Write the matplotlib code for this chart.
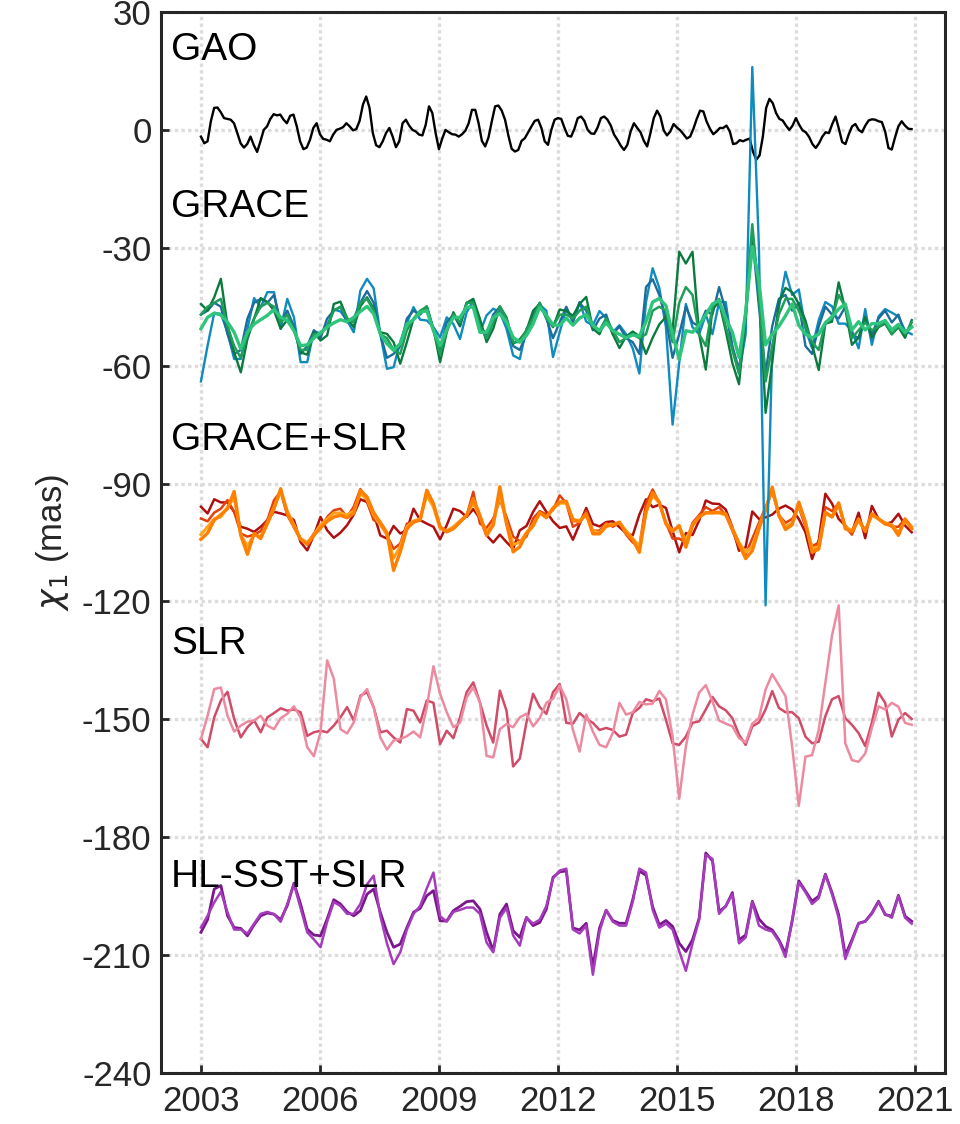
import numpy as np
import matplotlib
matplotlib.use("Agg")
import matplotlib.pyplot as plt

plt.rcParams['font.family'] = ['Liberation Sans', 'DejaVu Sans']
plt.rcParams['axes.unicode_minus'] = False

# monthly GAO, 2003.0 - 2020.92
gao = [-1.7,-3.4,-2.9,2.2,5.6,5.7,4.5,3.0,2.8,2.6,
       1.7,-0.8,-3.4,-4.5,-3.6,-1.7,-3.9,-5.6,-2.9,0.0,
       0.9,2.8,4.0,3.7,3.9,2.6,1.7,3.6,3.9,0.9,
       -2.9,-4.9,-4.5,-2.5,0.5,1.7,-1.1,-2.3,-2.5,-2.9,
       -1.2,0.0,0.3,0.7,1.7,0.9,-0.1,0.2,2.3,6.4,
       8.5,5.6,-0.8,-3.9,-4.4,-2.9,-0.8,0.5,-1.7,-4.4,
       -2.9,1.7,2.6,1.1,0.0,-0.4,-1.2,-1.4,1.3,6.0,
       4.3,-0.8,-4.9,-2.2,0.0,-0.6,-1.1,-1.2,-1.7,-1.1,
       -0.2,1.7,5.1,5.1,1.7,-2.8,-4.2,-1.9,2.2,6.0,
       6.2,4.9,2.6,-1.4,-4.8,-5.5,-5.1,-2.8,-2.1,-0.6,
       0.9,2.3,2.6,0.5,-2.9,-3.8,0.0,2.6,3.0,
       2.8,0.5,-1.5,-1.7,0.3,3.0,3.4,2.3,0.0,-0.9,-1.0,
       0.6,3.0,3.4,2.6,1.1,-1.2,-2.5,-4.0,-5.1,-3.8,
       -0.4,1.7,0.5,-0.6,-2.8,-4.2,-0.8,3.0,4.9,3.4,
       -0.1,-1.4,-0.4,1.5,0.6,-0.1,-1.1,-2.2,-1.7,0.3,
       2.8,4.9,4.7,2.1,0.3,-1.1,-0.4,0.5,0.5,1.1,
       -0.4,-3.6,-3.4,-2.6,-2.9,-2.5,-2.2,-5.5,-7.6,-6.5,
       -1.7,5.6,7.9,6.8,4.3,2.8,2.4,1.1,0.0,1.1,
       3.0,1.3,-0.1,-0.6,-1.8,-3.6,-4.6,-3.4,-1.7,-0.6,
       -0.8,1.5,3.4,0.3,-3.1,-3.6,-1.1,0.9,1.5,0.0,
       -0.6,1.1,2.4,2.7,2.6,2.2,2.0,-0.4,-4.6,-5.0,
       -1.9,0.9,2.2,1.1,0.3,0.2]

# GRACE solutions (two-monthly samples)
grace_1 = [-64.0,-54.9,-46.6,-46.8,-51.5,-58.3,-58.3,-50.6,-42.8,-45.1,
           -41.3,-41.3,-50.6,-43.0,-47.7,-59.1,-59.1,-51.1,-51.9,-49.8,
           -45.7,-46.2,-48.5,-51.5,-40.9,-37.9,-40.3,-51.9,-60.8,-60.4,
           -54.0,-49.1,-45.1,-48.3,-48.5,-50.2,-52.8,-47.7,-49.4,-53.2,
           -46.4,-43.4,-51.5,-47.2,-45.5,-46.4,-50.6,-57.4,-58.3,-50.6,
           -48.3,-44.5,-46.0,-57.8,-51.5,
           -45.6,-48.4,-43.8,-48.8,-49.7,
           -46.1,-47.9,-51.5,-49.7,-52.0,-55.6,-62.0,-43.8,-35.2,-40.2,
           -50.2,-75.0,-59.3,-44.3,-50.2,-52.0,-47.0,-52.0,-43.8,-43.8,
           -55.6,-62.0,-52.0,16.0,-30.0,-121.0,-55.6,-45.2,-36.1,-42.0,
           -40.6,-50.6,-55.6,-48.4,-43.8,-44.9,-49.3,-49.3,-51.1,-55.6,
           -45.6,-54.7,-47.5,-45.6,-46.5,-47.5,-51.1,-52.0]
grace_2 = [-47,-46,-44,-45,-52,-57,-56,-48,-44,-43,
           -44,-42,-49,-46,-50,-57,-55,-51,-53,-48,
           -46,-45,-49,-48,-44,-41,-44,-52,-58,-57,
           -55,-48,-46,-47,-45,-51,-56,-49,-47,-50,
           -44,-44,-50,-52,-47,-45,-49,-55,-56,-52,
           -47,-44,-48,-53,-49,
           -45,-49,-44,-46,-51,
           -48,-47,-52,-50,-53,-54,-57,-40,-38,-42,
           -48,-58,-52,-45,-49,-50,-46,-47,-40,-46,
           -55,-61,-48,-27,-45,-62,-50,-43,-42,-46,
           -44,-55,-57,-50,-45,-47,-48,-45,-52,-53,
           -48,-52,-48,-46,-49,-47,-52,-50]
grace_3 = [-44.3,-46.0,-42.6,-37.9,-49.8,-56.6,-61.7,-53.2,-48.1,-42.8,
           -43.8,-46.0,-50.6,-48.3,-50.6,-56.6,-57.2,-51.5,-53.6,-52.3,
           -44.3,-43.7,-47.9,-50.2,-44.9,-42.6,-45.5,-51.5,-51.9,-54.0,
           -59.5,-54.0,-48.1,-46.4,-44.9,-50.6,-59.1,-51.5,-46.4,-49.8,
           -44.0,-43.0,-48.1,-54.0,-50.6,-44.9,-47.7,-54.4,-53.3,-51.1,
           -46.0,-44.3,-47.7,-50.2,-45.7,
           -46.1,-47.3,-44.3,-42.5,-50.6,
           -52.0,-47.9,-52.0,-55.5,-52.6,-51.3,-52.5,-57.0,-52.9,-49.5,
           -47.6,-51.1,-31.0,-34.0,-31.0,-52.0,-61.0,-45.6,-43.8,-51.1,
           -59.3,-64.7,-47.5,-27.5,-40.2,-72.0,-59.3,-43.8,-40.2,-41.3,
           -44.3,-48.5,-54.7,-61.1,-49.3,-48.8,-38.8,-45.6,-54.7,-52.9,
           -47.6,-52.9,-50.2,-49.3,-52.0,-50.2,-52.9,-48.4]
grace_4 = [-47,-45,-44,-43,-50,-55,-58,-52,-48,-45,
           -44,-45,-49,-47,-51,-56,-56,-52,-52,-50,
           -46,-45,-48,-49,-44,-43,-46,-52,-53,-56,
           -57,-51,-48,-46,-45,-51,-57,-51,-47,-49,
           -44,-44,-50,-53,-49,-45,-48,-54,-54,-51,
           -48,-44,-48,-50,-47,
           -47,-48,-46,-45,-50,
           -51,-48,-51,-54,-53,-52,-53,-52,-46,-45,
           -46,-54,-44,-40,-42,-52,-55,-45,-43,-50,
           -56,-62,-46,-24,-42,-64,-55,-47,-43,-43,
           -46,-50,-54,-56,-49,-48,-42,-45,-53,-51,
           -49,-51,-50,-49,-52,-50,-52,-49]
grace_5 = [-50.6,-47.7,-46.6,-47.1,-48.9,-51.5,-55.7,-51.5,-49.4,-48.3,
           -47.2,-45.7,-47.7,-48.5,-51.1,-54.9,-54.7,-53.0,-51.6,-50.2,
           -49.1,-48.3,-48.8,-47.7,-46.2,-44.9,-46.8,-51.9,-54.4,-56.1,
           -54.4,-49.4,-48.3,-46.4,-46.0,-51.1,-54.9,-50.8,-47.7,-47.7,
           -45.1,-45.1,-51.5,-51.5,-47.7,-46.8,-48.9,-52.8,-54.0,-52.3,
           -49.4,-45.1,-47.2,-49.6,-49.8,
           -47.9,-49.7,-47.9,-47.0,-49.7,
           -51.1,-49.1,-51.1,-52.0,-52.9,-52.2,-52.5,-48.8,-43.8,-42.9,
           -44.7,-52.0,-58.4,-51.1,-51.5,-49.7,-47.0,-44.3,-43.4,-47.9,
           -51.5,-57.9,-46.5,-29.7,-38.4,-54.7,-52.0,-50.0,-47.3,-44.3,
           -49.7,-52.0,-52.9,-52.0,-49.1,-47.5,-45.6,-44.3,-50.9,-48.8,
           -50.9,-49.3,-49.3,-48.5,-50.9,-49.5,-51.5,-50.2]

# GRACE+SLR solutions
gs_1 = [-95.9,-97.6,-94.0,-94.8,-94.8,-97.2,-101.0,-101.5,-102.3,-101.0,
        -99.3,-97.2,-97.6,-98.1,-99.3,-104.9,-107.0,-103.2,-98.5,-101.9,
        -103.8,-102.5,-100.6,-97.9,-94.0,-94.7,-97.6,-103.2,-104.0,-100.8,
        -102.7,-101.9,-96.4,-99.3,-100.2,-101.0,-104.2,-100.6,-96.4,-97.0,
        -98.5,-96.5,-98.9,-103.2,-105.0,-103.0,-104.9,-106.6,-101.9,-100.8,
        -97.2,-94.5,-97.2,-99.6,-101.3,
        -100.9,-104.3,-100.3,-96.2,-100.3,
        -100.9,-99.8,-99.6,-101.1,-102.6,-103.2,-97.9,-94.0,-96.0,-95.4,
        -96.2,-102.1,-107.5,-102.6,-103.1,-99.4,-94.3,-95.1,-95.2,-96.6,
        -101.1,-107.1,-106.2,-97.1,-99.0,-98.6,-97.9,-96.4,-95.6,-96.6,
        -99.0,-102.4,-109.2,-104.5,-92.6,-95.1,-99.0,-100.7,-102.4,-97.4,
        -103.9,-95.7,-99.0,-100.3,-99.8,-97.7,-100.7,-102.4]
gs_2 = [-98.9,-99.6,-97.4,-96.4,-94.2,-97.2,-102.7,-103.5,-103.0,-102.1,
        -99.3,-94.2,-92.1,-98.1,-101.0,-104.2,-105.3,-102.7,-101.5,-98.5,
        -96.8,-96.4,-98.5,-95.9,-91.4,-94.7,-99.3,-100.2,-103.2,-106.6,
        -105.3,-100.2,-99.9,-99.3,-91.7,-95.5,-101.0,-102.3,-101.3,-99.8,
        -98.2,-92.1,-100.2,-101.3,-98.9,-94.2,-98.5,-103.5,-104.7,-103.5,
        -98.9,-97.0,-97.9,-96.8,-93.0,
        -95,-101,-100,-97,-102,
        -102,-100,-101,-100,-103,-105,-106,-95,-91.5,-95,
        -100,-104,-104,-105,-100,-98,-96,-97,-96,-98,
        -102,-106,-108,-104,-100,-96,-92,-98,-100,-99,
        -96,-101,-106,-105,-96,-97,-95,-101,-103,-99,
        -102,-98,-99,-100,-101,-101,-99,-101]
gs_3 = [-103,-101,-99,-98.5,-96,-93.5,-103,-106,-103,-103.5,
        -100,-96,-92,-97,-100.5,-104,-105,-103,-100.5,-99,
        -97.5,-97.5,-98,-97,-92.5,-94,-98,-100.5,-103,-109,
        -106,-101,-99.5,-99,-93,-96,-101.5,-102,-101,-99.5,
        -98,-95,-98.5,-102.5,-100,-93,-100,-105.5,-105,-102.5,
        -100.5,-97.5,-98.5,-96.5,-95,
        -95,-99,-99.5,-98,-102,
        -102.5,-100.5,-100.5,-100,-102,-104,-106,-97.5,-93,-95,
        -100,-102,-101,-104.5,-100.5,-98.5,-97.5,-97.5,-97.5,-98,
        -101.5,-105,-107.5,-106,-101,-96.5,-91.5,-98,-101,-100,
        -95.5,-100,-106.5,-106,-97.5,-98.5,-95.5,-101,-102,-99.5,
        -102,-98,-99,-100,-100.5,-102.5,-99.5,-101]
gs_4 = [-104.2,-102.6,-99.3,-97.9,-96.4,-92.0,-103.2,-108.0,-102.7,-104.0,
        -100.2,-96.4,-91.3,-97.6,-101.0,-104.2,-105.5,-103.2,-101.3,-99.6,
        -98.5,-98.1,-98.7,-97.6,-91.7,-93.4,-97.4,-99.9,-102.5,-112.1,
        -107.4,-101.5,-99.8,-99.3,-91.7,-95.1,-101.0,-102.3,-101.5,-99.8,
        -98.1,-93.8,-98.1,-103.2,-100.6,-90.8,-100.2,-107.4,-106.1,-102.7,
        -100.8,-97.4,-98.7,-96.2,-94.7,
        -94.5,-99.4,-99.7,-97.7,-102.8,
        -102.8,-100.9,-100.5,-99.8,-102.6,-104.3,-107.5,-97.1,-92.3,-94.7,
        -100.3,-102.2,-100.7,-106.2,-100.7,-98.5,-97.4,-97.4,-97.3,-97.7,
        -101.5,-105.4,-109.1,-107.1,-101.5,-96.8,-90.9,-98.1,-101.7,-100.5,
        -94.7,-99.8,-107.5,-106.7,-97.3,-98.5,-94.9,-101.5,-102.2,-99.0,
        -102.2,-97.7,-99.0,-100.3,-100.7,-103.2,-99.0,-101.5]

# SLR solutions
slr_1 = [-155.0,-149.1,-142.3,-141.9,-149.1,-153.1,-151.6,-150.6,-150.3,-149.1,
         -151.6,-152.5,-149.7,-148.6,-146.7,-149.5,-157.1,-159.4,-153.3,-135.0,
         -139.7,-152.5,-153.6,-150.8,-144.4,-142.3,-146.9,-154.6,-157.7,-155.4,
         -155.0,-154.3,-153.1,-154.6,-146.9,-136.5,-143.5,-148.2,-152.0,-150.9,
         -144.4,-141.9,-145.7,-159.3,-159.7,-152.5,-151.2,-152.0,-149.5,-148.6,
         -151.8,-149.7,-145.8,-144.8,-141.4,
         -144.9,-152.7,-158.2,-148.8,-153.1,
         -156.5,-157.1,-153.5,-145.8,-148.8,-148.2,-145.6,-146.2,-146.0,-142.8,
         -144.9,-154.4,-170.2,-156.9,-148.8,-143.2,-141.3,-145.4,-150.3,-151.1,
         -151.8,-154.8,-155.9,-151.1,-149.7,-142.4,-138.5,-141.3,-144.1,-156.9,
         -172.0,-159.5,-159.1,-152.7,-140.7,-128.7,-121.0,-156.1,-160.4,-160.8,
         -158.7,-152.2,-146.7,-147.5,-145.8,-146.8,-150.9,-151.4]
slr_2 = [-155.0,-157.1,-149.5,-145.2,-143.0,-149.9,-154.6,-152.0,-150.3,-153.3,
         -149.5,-148.4,-147.2,-147.8,-147.5,-148.2,-154.2,-153.3,-152.9,-153.3,
         -151.6,-149.5,-146.9,-150.3,-144.0,-143.1,-146.9,-153.3,-152.9,-154.6,
         -155.9,-147.4,-147.8,-150.8,-145.2,-145.8,-156.3,-152.9,-154.8,-149.5,
         -143.1,-140.6,-145.7,-151.6,-155.9,-142.7,-147.8,-162.0,-160.0,-150.8,
         -143.5,-146.9,-148.6,-143.1,-141.0,
         -150.9,-151.1,-148.4,-149.9,-150.9,
         -152.7,-152.2,-152.7,-154.4,-153.9,-148.4,-147.1,-144.9,-145.4,-144.7,
         -150.1,-156.1,-156.5,-154.4,-150.9,-150.5,-147.5,-144.3,-146.7,-147.7,
         -149.7,-153.9,-156.5,-151.8,-150.8,-147.5,-142.8,-147.1,-148.2,-148.2,
         -149.7,-154.4,-156.1,-155.7,-149.2,-144.9,-144.1,-149.7,-151.4,-153.5,
         -156.8,-150.9,-143.2,-145.8,-154.4,-150.1,-148.4,-149.9]

# HL-SST+SLR solutions
hl_1 = [-204.2,-201.0,-193.2,-192.3,-200.0,-203.0,-203.2,-205.1,-202.3,-200.0,
        -199.3,-199.6,-201.0,-197.4,-191.7,-197.0,-203.4,-204.9,-205.1,-200.8,
        -195.9,-197.0,-199.0,-200.0,-198.7,-194.5,-193.2,-199.1,-204.2,-208.0,
        -207.2,-203.0,-199.1,-198.1,-194.9,-193.6,-201.3,-201.3,-198.7,-197.6,
        -196.4,-196.2,-198.3,-204.2,-208.9,-199.6,-197.0,-203.8,-205.5,-200.4,
        -202.5,-201.7,-198.3,-190.2,-188.8,
        -188.6,-203.1,-203.6,-201.9,-213.0,
        -203.1,-198.6,-201.2,-201.9,-201.9,-195.9,-188.6,-189.7,-197.7,-202.3,
        -201.2,-202.7,-207.0,-209.1,-206.1,-200.6,-184.0,-186.0,-198.9,-197.6,
        -194.1,-206.1,-204.9,-196.3,-200.8,-202.7,-203.6,-206.1,-209.6,-201.4,
        -191.1,-193.7,-196.3,-195.0,-189.4,-194.1,-199.7,-210.0,-206.1,-201.9,
        -201.4,-199.3,-196.3,-199.7,-200.1,-194.8,-200.1,-201.4]
hl_2 = [-203.0,-200.0,-196.6,-193.9,-199.1,-203.5,-203.5,-204.5,-202.0,-199.5,
        -199.0,-199.6,-201.5,-197.0,-192.0,-198.0,-204.2,-206.0,-208.0,-201.5,
        -196.5,-197.5,-199.5,-199.5,-197.0,-192.0,-189.8,-200.0,-207.0,-212.3,
        -209.3,-203.5,-199.5,-197.5,-193.0,-189.0,-200.1,-201.5,-199.0,-198.5,
        -197.9,-197.9,-199.5,-206.8,-209.3,-200.5,-198.0,-205.0,-207.6,-200.5,
        -202.0,-201.0,-197.5,-190.5,-188.5,
        -188.0,-203.5,-204.5,-202.5,-215.0,
        -204.0,-198.5,-201.5,-202.5,-202.5,-196.5,-188.0,-189.0,-198.5,-203.0,
        -202.0,-203.5,-209.0,-214.0,-207.0,-201.0,-184.5,-185.5,-199.5,-197.5,
        -194.5,-207.0,-205.5,-196.5,-202.5,-203.5,-204.0,-206.5,-210.5,-201.0,
        -191.5,-194.0,-197.0,-195.5,-189.5,-194.5,-200.5,-211.0,-206.5,-202.0,
        -201.5,-199.5,-196.5,-199.5,-200.5,-195.0,-200.5,-202.0]

t_month = 2003 + np.arange(len(gao)) / 12
t_2m = np.linspace(2003, 2020.92, len(grace_1))

fig = plt.figure(figsize=(9.6, 11.24), dpi=100)
ax = fig.add_axes([0.168, 0.0454, 0.816, 0.9439])

ax.plot(t_month, gao, color='black', lw=1.7)

for vals, col, lw in zip([gs_1, gs_2, gs_3, gs_4],
                         ['#ae1010', '#e3400c', '#ffa21e', '#ff8000'],
                         [1.8, 1.8, 2.2, 2.4]):
    ax.plot(t_2m, vals, color=col, lw=lw)

ax.plot(t_2m, slr_2, color='#d04c68', lw=1.8)
ax.plot(t_2m, slr_1, color='#ec8aa0', lw=1.8)

ax.plot(t_2m, hl_1, color='#7c168c', lw=2.0)
ax.plot(t_2m, hl_2, color='#a53cbc', lw=1.8)

for vals, col, lw in zip([grace_1, grace_2, grace_3, grace_4, grace_5],
                         ['#0f8bbf', '#1d6c9b', '#0b7a3e', '#1f9e58', '#2fc47c'],
                         [1.7, 1.7, 1.7, 1.8, 2.4]):
    ax.plot(t_2m, vals, color=col, lw=lw)

labels = ['GAO', 'GRACE', 'GRACE+SLR', 'SLR', 'HL-SST+SLR']
label_y = [20.3, -19.5, -78.8, -130.8, -190.1]
for s, y in zip(labels, label_y):
    ax.text(2002.25, y, s, fontsize=28, va='center', ha='left')

ax.set_xlim(2002, 2021.75)
ax.set_ylim(-240, 30)
ax.set_xticks(range(2003, 2022, 3))
ax.set_yticks(range(-240, 31, 30))
ax.grid(True, color='#dcdcdc', linestyle=(0, (1, 1)), linewidth=2.4)
ax.set_axisbelow(True)
ax.tick_params(direction='in', length=6, width=2, labelsize=25, colors='#262626')
ax.tick_params(axis='x', pad=9)
ax.tick_params(axis='y', pad=7)
for sp in ax.spines.values():
    sp.set_linewidth(2.2)
    sp.set_color('#262626')
ax.set_ylabel(r'$\chi_1$ (mas)', fontsize=25, color='#262626', labelpad=8)

fig.savefig('out.png', dpi=100)
